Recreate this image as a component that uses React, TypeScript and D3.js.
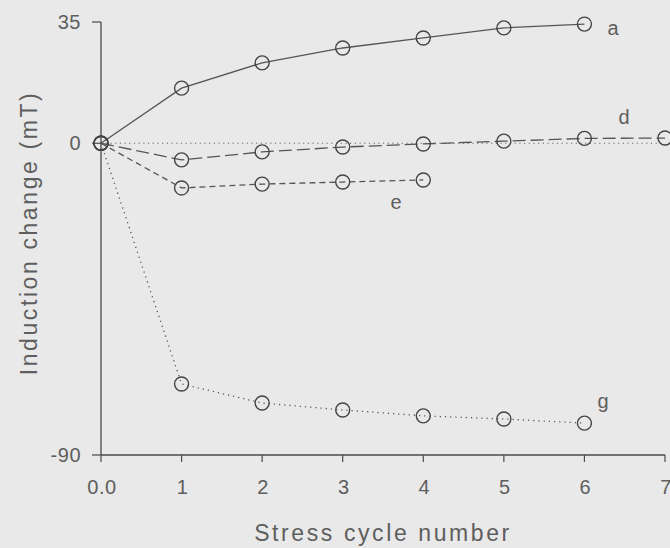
import { useEffect, useRef } from "react";
import * as d3 from "d3";

const cycles = [0, 1, 2, 3, 4, 5, 6, 7];
const seriesA = [0, 15.9, 23.2, 27.5, 30.4, 33.3, 34.4];
const seriesD = [0, -4.8, -2.5, -1.1, -0.2, 0.6, 1.4, 1.5];
const seriesE = [0, -12.9, -11.8, -11.2, -10.6];
const seriesG = [0, -69.5, -75.0, -77.0, -78.7, -79.6, -80.8];
const xTicks = [0, 1, 2, 3, 4, 5, 6, 7];
const yTicks = [-90, 0, 35];

const W = 670;
const H = 548;

export default function App() {
  const ref = useRef<SVGSVGElement>(null);

  useEffect(() => {
    if (!ref.current) return;
    const svg = d3.select(ref.current);
    svg.selectAll("*").remove();

    const ink = "#4a4a4a";
    const txt = "#5e5e5e";
    const font = "'Liberation Sans', Arial, sans-serif";

    svg
      .append("rect")
      .attr("width", W)
      .attr("height", H)
      .attr("fill", "#e9e9e9");

    const x = d3.scaleLinear().domain([0, 7]).range([101, 665]);
    const y = d3.scaleLinear().domain([-90, 35]).range([455, 22]);

    // axes
    svg
      .append("line")
      .attr("x1", x(0))
      .attr("x2", x(7))
      .attr("y1", y(-90))
      .attr("y2", y(-90))
      .attr("stroke", ink)
      .attr("stroke-width", 1.3);
    svg
      .append("line")
      .attr("x1", x(0))
      .attr("x2", x(0))
      .attr("y1", y(-90))
      .attr("y2", y(35))
      .attr("stroke", ink)
      .attr("stroke-width", 1.3);

    svg
      .selectAll(".xt")
      .data(xTicks)
      .enter()
      .append("line")
      .attr("x1", (d: number) => x(d))
      .attr("x2", (d: number) => x(d))
      .attr("y1", y(-90))
      .attr("y2", y(-90) + 7)
      .attr("stroke", ink)
      .attr("stroke-width", 1.2);

    svg
      .selectAll(".xl")
      .data(xTicks)
      .enter()
      .append("text")
      .attr("x", (d: number) => x(d) + 1)
      .attr("y", 494)
      .attr("text-anchor", "middle")
      .attr("font-family", font)
      .attr("font-size", 20)
      .attr("letter-spacing", 0.5)
      .attr("fill", txt)
      .text((d: number) => (d === 0 ? "0.0" : String(d)));

    svg
      .selectAll(".yt")
      .data(yTicks)
      .enter()
      .append("line")
      .attr("x1", x(0) - 9)
      .attr("x2", x(0))
      .attr("y1", (d: number) => y(d))
      .attr("y2", (d: number) => y(d))
      .attr("stroke", ink)
      .attr("stroke-width", 1.2);

    svg
      .selectAll(".yl")
      .data(yTicks)
      .enter()
      .append("text")
      .attr("x", 81)
      .attr("y", (d: number) => y(d) + 7)
      .attr("text-anchor", "end")
      .attr("font-family", font)
      .attr("font-size", 20)
      .attr("letter-spacing", 0.5)
      .attr("fill", txt)
      .text((d: number) => (d < 0 ? "-90" : String(d)));

    svg
      .append("text")
      .attr("x", 383)
      .attr("y", 541)
      .attr("text-anchor", "middle")
      .attr("font-family", font)
      .attr("font-size", 23)
      .attr("letter-spacing", 2.6)
      .attr("fill", txt)
      .text("Stress cycle number");

    svg
      .append("text")
      .attr("transform", "translate(37,233) rotate(-90)")
      .attr("text-anchor", "middle")
      .attr("font-family", font)
      .attr("font-size", 23)
      .attr("letter-spacing", 2.6)
      .attr("fill", txt)
      .text("Induction change (mT)");

    // zero reference
    svg
      .append("line")
      .attr("x1", x(0))
      .attr("x2", x(7))
      .attr("y1", y(0))
      .attr("y2", y(0))
      .attr("stroke", "#666")
      .attr("stroke-width", 1.1)
      .attr("stroke-dasharray", "1.2,3.5");

    const line = d3
      .line<number>()
      .x((_d: number, i: number) => x(cycles[i]))
      .y((d: number) => y(d));

    const series = [
      { data: seriesA, dash: null, label: "a", lx: 613, ly: 35 },
      { data: seriesD, dash: "13,5", label: "d", lx: 624, ly: 124 },
      { data: seriesE, dash: "6,4", label: "e", lx: 396, ly: 209 },
      { data: seriesG, dash: "1.2,4", label: "g", lx: 603, ly: 408 },
    ];

    series.forEach((s) => {
      svg
        .append("path")
        .attr("d", line(s.data))
        .attr("fill", "none")
        .attr("stroke", "#555")
        .attr("stroke-width", 1.3)
        .attr("stroke-dasharray", s.dash);

      svg
        .selectAll(null)
        .data(s.data)
        .enter()
        .append("circle")
        .attr("cx", (_d: number, i: number) => x(cycles[i]))
        .attr("cy", (d: number) => y(d))
        .attr("r", 7)
        .attr("fill", "none")
        .attr("stroke", "#444")
        .attr("stroke-width", 1.4);

      svg
        .append("text")
        .attr("x", s.lx)
        .attr("y", s.ly)
        .attr("text-anchor", "middle")
        .attr("font-family", font)
        .attr("font-size", 20)
        .attr("fill", txt)
        .text(s.label);
    });
  }, []);

  return (
    <svg
      ref={ref}
      width={W}
      height={H}
      style={{ position: "absolute", left: 0, top: 0 }}
    />
  );
}
